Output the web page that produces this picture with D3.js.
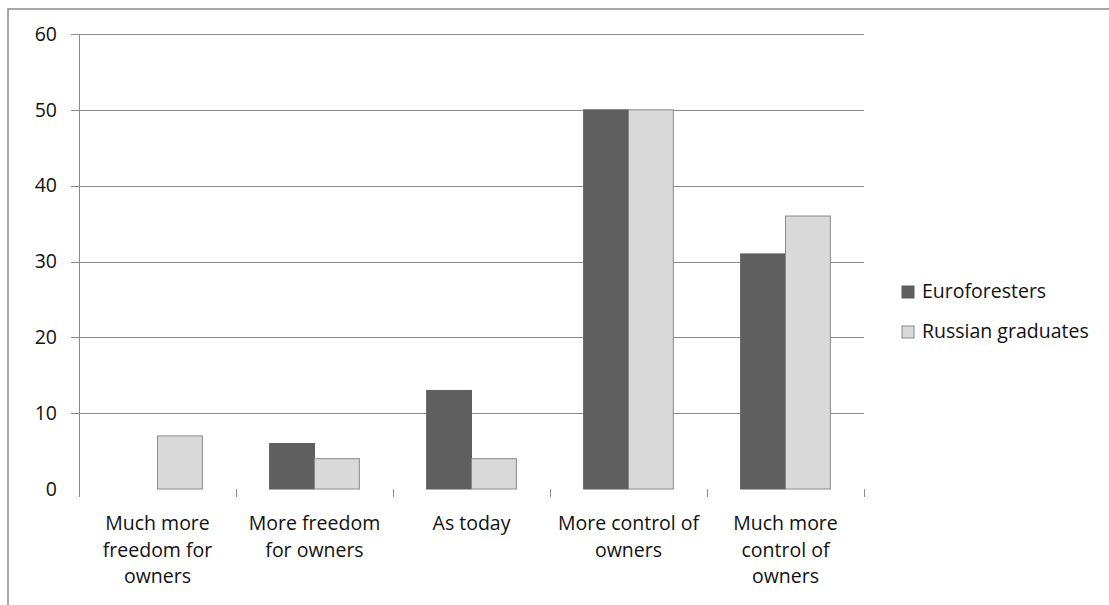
<!DOCTYPE html>
<html>
<head>
<meta charset="utf-8">
<script src="https://cdn.jsdelivr.net/npm/d3@7"></script>
<style>
  html, body { margin: 0; padding: 0; background: #fff; }
  svg text { font-family: "Open Sans", Lato, sans-serif; fill: #111; }
</style>
</head>
<body>
<svg id="chart" width="1109" height="605"></svg>
<script>
// Survey answers: how should the state regulate private forest owners?
const categories = [
  "Much more freedom for owners",
  "More freedom for owners",
  "As today",
  "More control of owners",
  "Much more control of owners"
];
const categoryLines = [
  ["Much more", "freedom for", "owners"],
  ["More freedom", "for owners"],
  ["As today"],
  ["More control of", "owners"],
  ["Much more", "control of", "owners"]
];
const seriesNames = ["Euroforesters", "Russian graduates"];
const euroforesters = [0, 6, 13, 50, 31];
const russianGraduates = [7, 4, 4, 50, 36];
const yTicks = [0, 10, 20, 30, 40, 50, 60];

const colors = ["#5f5f5f", "#d9d9d9"];
const strokes = ["#5f5f5f", "#8a8a8a"];
const fontSize = 19.5;

const svg = d3.select("#chart");

// outer frame (top and left edges)
svg.append("path")
  .attr("d", "M8,605 L8,9 L1109,9")
  .attr("fill", "none")
  .attr("stroke", "#8c8c8c")
  .attr("stroke-width", 1.5);

const plot = { left: 79, right: 864, top: 34, bottom: 489 };

const x0 = d3.scaleBand()
  .domain(categories)
  .range([plot.left, plot.right]);

// two bars per category, 75% gap split on both sides
const x1 = d3.scaleBand()
  .domain(seriesNames)
  .range([0, x0.bandwidth()])
  .paddingOuter(0.75);

const y = d3.scaleLinear().domain([0, 60]).range([plot.bottom, plot.top]);

// gridlines with left tick stubs
svg.append("g")
  .selectAll("line")
  .data(yTicks.filter(d => d > 0))
  .join("line")
  .attr("x1", plot.left - 8)
  .attr("x2", plot.right)
  .attr("y1", d => Math.round(y(d)) + 0.5)
  .attr("y2", d => Math.round(y(d)) + 0.5)
  .attr("stroke", "#8c8c8c")
  .attr("stroke-width", 1);

// y axis line
svg.append("line")
  .attr("x1", plot.left + 0.5).attr("x2", plot.left + 0.5)
  .attr("y1", plot.top).attr("y2", plot.bottom + 8)
  .attr("stroke", "#8c8c8c");

// y tick labels
svg.append("g")
  .selectAll("text")
  .data(yTicks)
  .join("text")
  .attr("x", 57)
  .attr("y", d => y(d))
  .attr("dy", "0.35em")
  .attr("text-anchor", "end")
  .attr("font-size", fontSize)
  .text(d => d);

// category boundary ticks
const boundaries = categories.map(c => x0(c)).concat([plot.right]).slice(1);
svg.append("g")
  .selectAll("line")
  .data(boundaries)
  .join("line")
  .attr("x1", d => Math.round(d) + 0.5)
  .attr("x2", d => Math.round(d) + 0.5)
  .attr("y1", plot.bottom)
  .attr("y2", plot.bottom + 8)
  .attr("stroke", "#8c8c8c");

// bars
const series = [euroforesters, russianGraduates];
const groups = svg.append("g")
  .selectAll("g")
  .data(categories)
  .join("g")
  .attr("transform", c => `translate(${x0(c)},0)`);

groups.selectAll("rect")
  .data((c, i) => series.map((s, k) => ({ name: seriesNames[k], value: s[i], k })))
  .join("rect")
  .filter(d => d.value > 0)
  .attr("x", d => x1(d.name))
  .attr("y", d => y(d.value))
  .attr("width", x1.bandwidth())
  .attr("height", d => y(0) - y(d.value))
  .attr("fill", d => colors[d.k])
  .attr("stroke", d => strokes[d.k])
  .attr("stroke-width", 1);

// category labels
const labels = svg.append("g")
  .selectAll("text")
  .data(categories)
  .join("text")
  .attr("text-anchor", "middle")
  .attr("font-size", fontSize)
  .attr("transform", c => `translate(${x0(c) + x0.bandwidth() / 2},530)`);

labels.selectAll("tspan")
  .data((c, i) => categoryLines[i])
  .join("tspan")
  .attr("x", 0)
  .attr("y", (d, j) => j * 26.5)
  .text(d => d);

// legend
const legend = svg.append("g")
  .selectAll("g")
  .data(seriesNames)
  .join("g")
  .attr("transform", (d, i) => `translate(902,${286 + i * 40})`);

legend.append("rect")
  .attr("width", 12).attr("height", 12)
  .attr("fill", (d, i) => colors[i])
  .attr("stroke", (d, i) => strokes[i]);

legend.append("text")
  .attr("x", 20)
  .attr("y", 12)
  .attr("font-size", fontSize)
  .text(d => d);
</script>
</body>
</html>
